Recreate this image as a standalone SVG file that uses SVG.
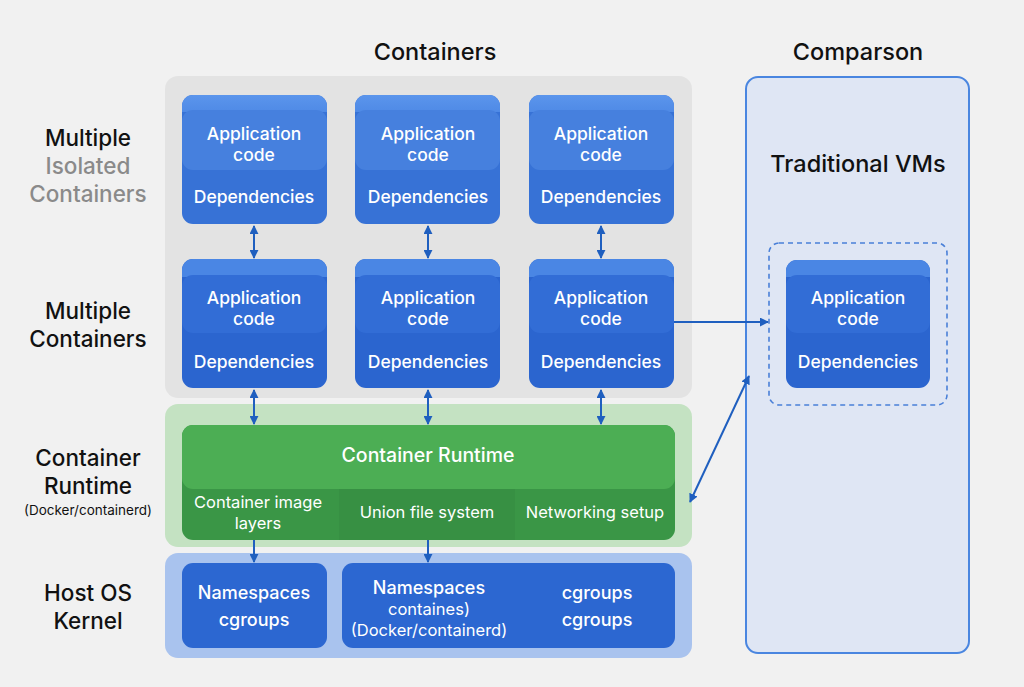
<svg xmlns="http://www.w3.org/2000/svg" width="1024" height="687" viewBox="0 0 1024 687">
<defs>
<marker id="ah" viewBox="0 0 10 10" refX="9" refY="5" markerWidth="4.5" markerHeight="4.5" orient="auto-start-reverse"><path d="M0,0 L10,5 L0,10 z" fill="#1f5fbf"/></marker>
<linearGradient id="top" x1="0" y1="0" x2="0" y2="1"><stop offset="0" stop-color="#5b95ec"/><stop offset="1" stop-color="#4f8ae6"/></linearGradient>
</defs>
<style>
text{font-family:Inter,"Open Sans","Liberation Sans",sans-serif;text-anchor:middle;font-weight:500}
.t{font-size:22.5px;fill:#111}
.g{font-size:22.5px;fill:#8a8a8a}
.w{font-size:17.5px;fill:#fff}
.ws{font-size:16.5px;fill:#fff;font-weight:400}
.h{font-size:23.5px;fill:#111}
.c{stroke:#1f5fbf;stroke-width:2;fill:none}
.box{fill:#3772d6}
.code{fill:#4680de}
.box2{fill:#2b65cf}
.code2{fill:#326dd6}
</style>
<rect width="1024" height="687" fill="#f1f1f1"/>
<text class="h" x="435" y="60">Containers</text>
<text class="h" x="858" y="60">Comparson</text>

<g id="labels">
<text class="t" x="88" y="146">Multiple</text>
<text class="g" x="88" y="174">Isolated</text>
<text class="g" x="88" y="202">Containers</text>
<text class="t" x="88" y="319">Multiple</text>
<text class="t" x="88" y="347">Containers</text>
<text class="t" x="88" y="466">Container</text>
<text class="t" x="88" y="494">Runtime</text>
<text x="88" y="515" style="font-size:13.5px;fill:#111;font-weight:400">(Docker/containerd)</text>
<text class="t" x="88" y="601">Host OS</text>
<text class="t" x="88" y="629">Kernel</text>
</g>

<g id="containers-panel"><rect x="165" y="76" width="527" height="322" rx="13" fill="#e3e3e3"/></g>

<g id="c1-1">
<rect x="182" y="95" width="145" height="129" rx="11" class="box"/>
<path d="M182,112 V106 a11,11 0 0 1 11,-11 H316 a11,11 0 0 1 11,11 V112 z" fill="url(#top)"/>
<rect x="182" y="110" width="145" height="60" rx="11" class="code"/>
<text class="w" x="254" y="140">Application</text><text class="w" x="254" y="161">code</text>
<text class="w" x="254" y="203">Dependencies</text>
</g>
<g id="c1-2">
<rect x="355" y="95" width="145" height="129" rx="11" class="box"/>
<path d="M355,112 V106 a11,11 0 0 1 11,-11 H489 a11,11 0 0 1 11,11 V112 z" fill="url(#top)"/>
<rect x="355" y="110" width="145" height="60" rx="11" class="code"/>
<text class="w" x="428" y="140">Application</text><text class="w" x="428" y="161">code</text>
<text class="w" x="428" y="203">Dependencies</text>
</g>
<g id="c1-3">
<rect x="529" y="95" width="145" height="129" rx="11" class="box"/>
<path d="M529,112 V106 a11,11 0 0 1 11,-11 H663 a11,11 0 0 1 11,11 V112 z" fill="url(#top)"/>
<rect x="529" y="110" width="145" height="60" rx="11" class="code"/>
<text class="w" x="601" y="140">Application</text><text class="w" x="601" y="161">code</text>
<text class="w" x="601" y="203">Dependencies</text>
</g>

<g id="c2-1">
<rect x="182" y="259" width="145" height="129" rx="11" class="box2"/>
<path d="M182,277 V270 a11,11 0 0 1 11,-11 H316 a11,11 0 0 1 11,11 V277 z" fill="#4a86e4"/>
<rect x="182" y="275" width="145" height="58" rx="11" class="code2"/>
<text class="w" x="254" y="304">Application</text><text class="w" x="254" y="325">code</text>
<text class="w" x="254" y="368">Dependencies</text>
</g>
<g id="c2-2">
<rect x="355" y="259" width="145" height="129" rx="11" class="box2"/>
<path d="M355,277 V270 a11,11 0 0 1 11,-11 H489 a11,11 0 0 1 11,11 V277 z" fill="#4a86e4"/>
<rect x="355" y="275" width="145" height="58" rx="11" class="code2"/>
<text class="w" x="428" y="304">Application</text><text class="w" x="428" y="325">code</text>
<text class="w" x="428" y="368">Dependencies</text>
</g>
<g id="c2-3">
<rect x="529" y="259" width="145" height="129" rx="11" class="box2"/>
<path d="M529,277 V270 a11,11 0 0 1 11,-11 H663 a11,11 0 0 1 11,11 V277 z" fill="#4a86e4"/>
<rect x="529" y="275" width="145" height="58" rx="11" class="code2"/>
<text class="w" x="601" y="304">Application</text><text class="w" x="601" y="325">code</text>
<text class="w" x="601" y="368">Dependencies</text>
</g>

<g id="runtime">
<rect x="165" y="404" width="527" height="143" rx="13" fill="#c4e2c2"/>
<rect x="182" y="425" width="493" height="115" rx="11" fill="#3a9646"/>
<rect x="339" y="488" width="176" height="52" fill="#379043"/>
<rect x="182" y="425" width="493" height="64" rx="11" fill="#4cae54"/>
<text x="428" y="462" style="font-size:19.5px;fill:#fff">Container Runtime</text>
<text class="ws" x="258" y="508">Container image</text><text class="ws" x="258" y="529">layers</text>
<text class="ws" x="427" y="518">Union file system</text>
<text class="ws" x="595" y="518">Networking setup</text>
</g>

<g id="kernel">
<rect x="165" y="553" width="527" height="105" rx="13" fill="#a9c3ee"/>
<g id="k1"><rect x="182" y="563" width="145" height="85" rx="11" fill="#2c67d1"/>
<text class="w" x="254" y="599" style="font-size:18px">Namespaces</text><text class="w" x="254" y="626" style="font-size:18px">cgroups</text></g>
<g id="k2"><rect x="342" y="563" width="333" height="85" rx="11" fill="#2c67d1"/>
<text class="w" x="429" y="594" style="font-size:18px">Namespaces</text>
<text class="ws" x="429" y="615">containes)</text>
<text class="ws" x="429" y="636">(Docker/containerd)</text>
<text class="w" x="597" y="599" style="font-size:18px">cgroups</text><text class="w" x="597" y="626" style="font-size:18px">cgroups</text></g>
</g>

<g id="comparison">
<rect x="746" y="77" width="223" height="576" rx="12" fill="#dfe6f4" stroke="#4a86e0" stroke-width="2"/>
<text class="h" x="858" y="172">Traditional VMs</text>
<rect x="769" y="243" width="178" height="162" rx="10" fill="none" stroke="#4a80d8" stroke-width="1.6" stroke-dasharray="5,4"/>
<g id="vm">
<rect x="786" y="260" width="144" height="128" rx="11" class="box2"/>
<path d="M786,277 V271 a11,11 0 0 1 11,-11 H919 a11,11 0 0 1 11,11 V277 z" fill="#4a86e4"/>
<rect x="786" y="275" width="144" height="58" rx="11" class="code2"/>
<text class="w" x="858" y="304">Application</text><text class="w" x="858" y="325">code</text>
<text class="w" x="858" y="368">Dependencies</text>
</g>
</g>

<g id="connectors">
<line class="c" x1="254" y1="226" x2="254" y2="258" marker-start="url(#ah)" marker-end="url(#ah)"/>
<line class="c" x1="428" y1="226" x2="428" y2="258" marker-start="url(#ah)" marker-end="url(#ah)"/>
<line class="c" x1="601" y1="226" x2="601" y2="258" marker-start="url(#ah)" marker-end="url(#ah)"/>
<line class="c" x1="254" y1="390" x2="254" y2="424" marker-start="url(#ah)" marker-end="url(#ah)"/>
<line class="c" x1="428" y1="390" x2="428" y2="424" marker-start="url(#ah)" marker-end="url(#ah)"/>
<line class="c" x1="601" y1="390" x2="601" y2="424" marker-start="url(#ah)" marker-end="url(#ah)"/>
<line class="c" x1="254" y1="540" x2="254" y2="562" marker-end="url(#ah)"/>
<line class="c" x1="428" y1="540" x2="428" y2="562" marker-end="url(#ah)"/>
<line class="c" x1="674" y1="322" x2="768" y2="322" marker-end="url(#ah)"/>
<line class="c" x1="690" y1="502" x2="749" y2="376" marker-start="url(#ah)" marker-end="url(#ah)"/>
</g>
</svg>
